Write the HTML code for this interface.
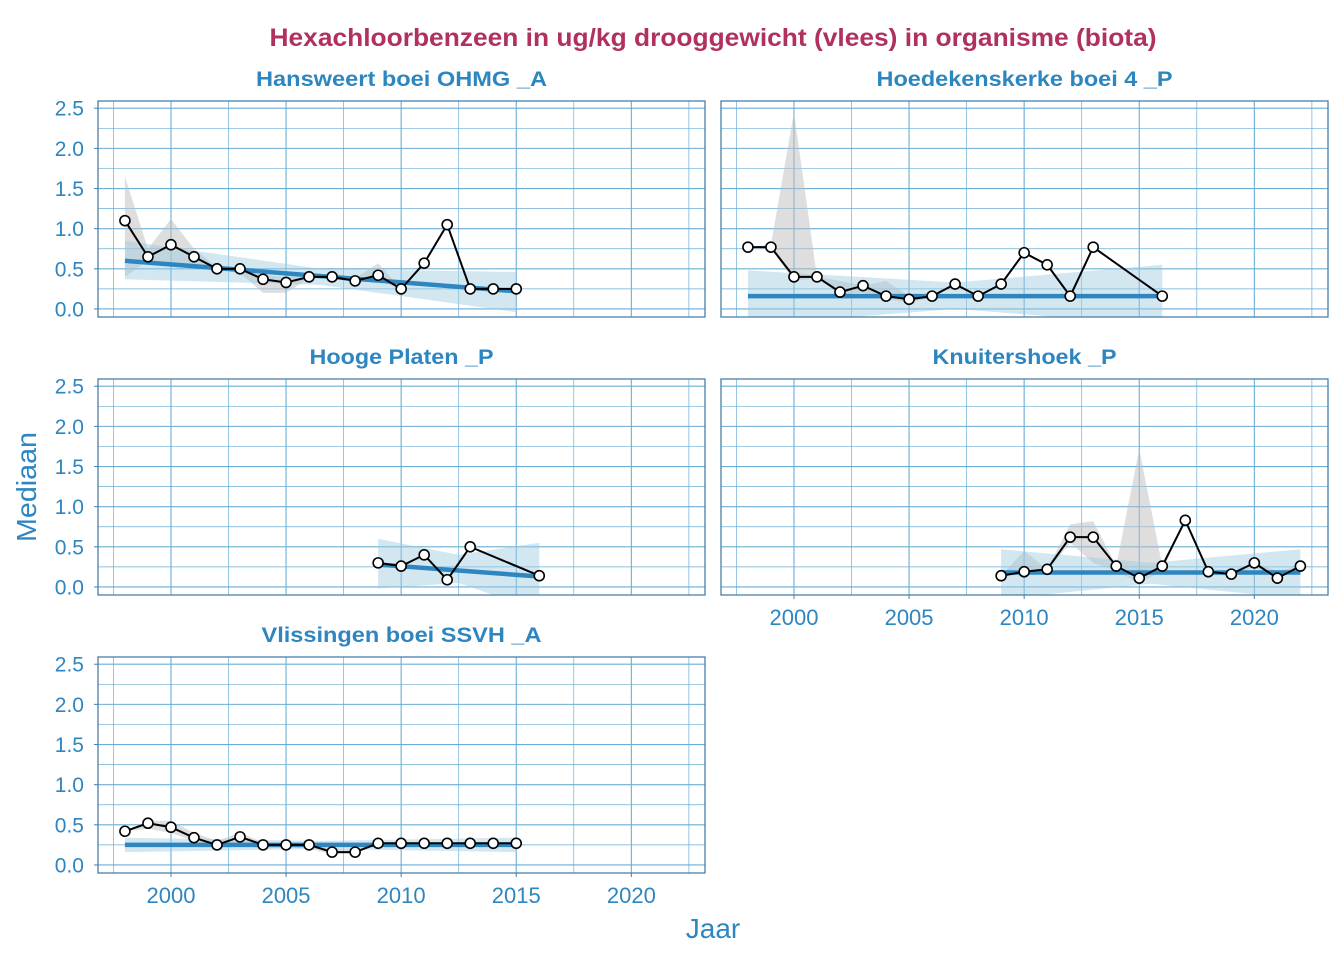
<!DOCTYPE html>
<html><head><meta charset="utf-8"><style>
body{margin:0;background:#fff;font-family:"Liberation Sans",sans-serif}
</style></head><body>
<svg id="chart" width="1344" height="960" xmlns="http://www.w3.org/2000/svg" font-family="Liberation Sans, sans-serif">
<text x="713" y="46" text-anchor="middle" font-size="25" font-weight="bold" fill="#b03060" textLength="887" lengthAdjust="spacingAndGlyphs">Hexachloorbenzeen in ug/kg drooggewicht (vlees) in organisme (biota)</text>
<text transform="translate(36,487) rotate(-90)" text-anchor="middle" font-size="28" fill="#2e86c1" textLength="110" lengthAdjust="spacingAndGlyphs">Mediaan</text>
<text x="713" y="938" text-anchor="middle" font-size="28" fill="#2e86c1">Jaar</text>
<defs id="defs"></defs>
<g id="panels"></g>
</svg>
<script>
const titles=["Hansweert boei OHMG _A","Hoedekenskerke boei 4 _P","Hooge Platen _P","Knuitershoek _P","Vlissingen boei SSVH _A"];
const titleWidths=[291,296,184,184,280];
const years1=[1998,1999,2000,2001,2002,2003,2004,2005,2006,2007,2008,2009,2010,2011,2012,2013,2014,2015];
const vals1=[1.1,0.65,0.8,0.65,0.5,0.5,0.37,0.33,0.4,0.4,0.35,0.42,0.25,0.57,1.05,0.25,0.25,0.25];
const grayUp1=[1.65,0.75,1.12,0.75,0.52,0.5,0.42,0.4,0.42,0.4,0.38,0.57,0.25,0.57,1.05,0.25,0.25,0.25];
const grayLo1=[0.4,0.6,0.55,0.55,0.48,0.45,0.2,0.2,0.38,0.38,0.33,0.35,0.25,0.57,1.05,0.25,0.25,0.25];
const trend1=[0.6,0.22];const ribUp1=[0.85,0.5,0.46];const ribLo1=[0.37,0.3,-0.04];
const years2=[1998,1999,2000,2001,2002,2003,2004,2005,2006,2007,2008,2009,2010,2011,2012,2013,2016];
const vals2=[0.77,0.77,0.4,0.4,0.21,0.29,0.16,0.12,0.16,0.31,0.16,0.31,0.7,0.55,0.16,0.77,0.16];
const grayUp2=[0.77,0.8,2.45,0.4,0.35,0.29,0.35,0.16,0.16,0.31,0.16,0.31,0.7,0.55,0.16,0.77,0.16];
const grayLo2=[0.77,0.75,0.35,0.38,0.18,0.2,0.12,0.08,0.14,0.3,0.15,0.3,0.7,0.55,0.16,0.77,0.16];
const trend2=[0.16,0.16];const ribUp2=[0.48,0.33,0.55];const ribLo2=[-0.2,0.0,-0.2];
const years3=[2009,2010,2011,2012,2013,2016];
const vals3=[0.3,0.26,0.4,0.09,0.5,0.14];
const grayUp3=[0.3,0.26,0.4,0.09,0.5,0.14];const grayLo3=[0.3,0.26,0.4,0.09,0.5,0.14];
const trend3=[0.28,0.13];const ribUp3=[0.6,0.4,0.55];const ribLo3=[-0.02,0.05,-0.3];
const years4=[2009,2010,2011,2012,2013,2014,2015,2016,2017,2018,2019,2020,2021,2022];
const vals4=[0.14,0.19,0.22,0.62,0.62,0.26,0.11,0.26,0.83,0.19,0.16,0.3,0.11,0.26];
const grayUp4=[0.14,0.45,0.22,0.78,0.82,0.26,1.72,0.26,0.83,0.19,0.2,0.3,0.2,0.26];
const grayLo4=[0.14,0.15,0.2,0.55,0.3,0.2,0.05,0.2,0.83,0.15,0.14,0.25,0.1,0.26];
const trend4=[0.18,0.18];const ribUp4=[0.47,0.3,0.47];const ribLo4=[-0.15,0.04,-0.15];
const years5=[1998,1999,2000,2001,2002,2003,2004,2005,2006,2007,2008,2009,2010,2011,2012,2013,2014,2015];
const vals5=[0.42,0.52,0.47,0.34,0.25,0.35,0.25,0.25,0.25,0.16,0.16,0.27,0.27,0.27,0.27,0.27,0.27,0.27];
const grayUp5=[0.42,0.55,0.55,0.4,0.3,0.4,0.28,0.25,0.27,0.2,0.2,0.27,0.27,0.27,0.27,0.27,0.27,0.27];
const grayLo5=[0.42,0.45,0.4,0.3,0.2,0.25,0.2,0.22,0.2,0.14,0.14,0.27,0.27,0.27,0.27,0.27,0.27,0.27];
const trend5=[0.25,0.25];const ribUp5=[0.34,0.3,0.34];const ribLo5=[0.16,0.2,0.16];
const yTicks=[0,0.5,1,1.5,2,2.5];const xTicks=[2000,2005,2010,2015,2020];

const NS="http://www.w3.org/2000/svg";
const root=document.getElementById('panels');
const defs=document.getElementById('defs');
function el(tag,attrs,parent){const e=document.createElementNS(NS,tag);for(const k in attrs)e.setAttribute(k,attrs[k]);(parent||root).appendChild(e);return e;}
const X0=1996.83,X1=2023.2,Y0=-0.1,Y1=2.59;
const layout=[[98,101],[721,101],[98,379],[721,379],[98,657]];
const W=607,H=216;
const series=[[years1,vals1,grayUp1,grayLo1,trend1,ribUp1,ribLo1],[years2,vals2,grayUp2,grayLo2,trend2,ribUp2,ribLo2],[years3,vals3,grayUp3,grayLo3,trend3,ribUp3,ribLo3],[years4,vals4,grayUp4,grayLo4,trend4,ribUp4,ribLo4],[years5,vals5,grayUp5,grayLo5,trend5,ribUp5,ribLo5]];
series.forEach((s,i)=>{
  const [px,py]=layout[i];
  const xs=v=>px+(v-X0)/(X1-X0)*W, ys=v=>py+H-(v-Y0)/(Y1-Y0)*H;
  const cp=el('clipPath',{id:'clip'+i},defs);
  el('rect',{x:px,y:py,width:W,height:H},cp);
  const g=el('g',{});
  
  
  const t=el('text',{x:px+W/2,y:py-15,'text-anchor':'middle','font-size':21,'font-weight':'bold',fill:'#2e86c1',textLength:titleWidths[i],lengthAdjust:'spacingAndGlyphs'},g);
  t.textContent=titles[i];
  
  
  for(let v=0;v<=2.5001;v+=0.25){const l=el('line',{x1:px,x2:px+W,y1:ys(v),y2:ys(v),stroke:'#6badd6','stroke-width':(Math.abs(v*2-Math.round(v*2))<0.01)?1.1:0.7},g);}
  for(let v=1997.5;v<=2023;v+=2.5){const l=el('line',{x1:xs(v),x2:xs(v),y1:py,y2:py+H,stroke:'#6badd6','stroke-width':(v%5===0)?1.1:0.7},g);}
  const [yr,vals,gu,gl,tr,ru,rl]=s;
  const inner=el('g',{'clip-path':'url(#clip'+i+')'},g);
  
  
  let pts=yr.map((y,j)=>xs(y)+','+ys(gu[j])).join(' ')+' '+yr.slice().reverse().map((y,j)=>xs(y)+','+ys(gl[yr.length-1-j])).join(' ');
  const gp=el('polygon',{points:pts,fill:'#bdbdbd','fill-opacity':0.5},inner);
  const a=yr[0],b=yr[yr.length-1],m=(a+b)/2;
  const rb=el('polygon',{points:`${xs(a)},${ys(ru[0])} ${xs(m)},${ys(ru[1])} ${xs(b)},${ys(ru[2])} ${xs(b)},${ys(rl[2])} ${xs(m)},${ys(rl[1])} ${xs(a)},${ys(rl[0])}`,fill:'#9ecae1','fill-opacity':0.45},inner);
  const tl=el('line',{x1:xs(a),y1:ys(tr[0]),x2:xs(b),y2:ys(tr[1]),stroke:'#2e86c1','stroke-width':4.5},inner);
  const pl=el('polyline',{points:yr.map((y,j)=>xs(y)+','+ys(vals[j])).join(' '),fill:'none',stroke:'#000','stroke-width':2},g);
  yr.forEach((y,j)=>{const c=el('circle',{cx:xs(y),cy:ys(vals[j]),r:5,fill:'#fff',stroke:'#000','stroke-width':1.6},g);});
  const fr=el('rect',{x:px,y:py,width:W,height:H,fill:'none',stroke:'#4a7fa7','stroke-width':1.3},g);
  if(i%2===0){yTicks.forEach(v=>{const tk=el('line',{x1:px-4,x2:px,y1:ys(v),y2:ys(v),stroke:'#4a7fa7'},g);const tx=el('text',{x:px-14,y:ys(v)+7.5,'text-anchor':'end','font-size':21,fill:'#2e86c1'},g);tx.textContent=v.toFixed(1);});}
  if(i>=3){xTicks.forEach(v=>{const tk=el('line',{x1:xs(v),x2:xs(v),y1:py+H,y2:py+H+4,stroke:'#4a7fa7'},g);const tx=el('text',{x:xs(v),y:py+H+30,'text-anchor':'middle','font-size':22,fill:'#2e86c1'},g);tx.textContent=v;});}
});
</script>
</body></html>
